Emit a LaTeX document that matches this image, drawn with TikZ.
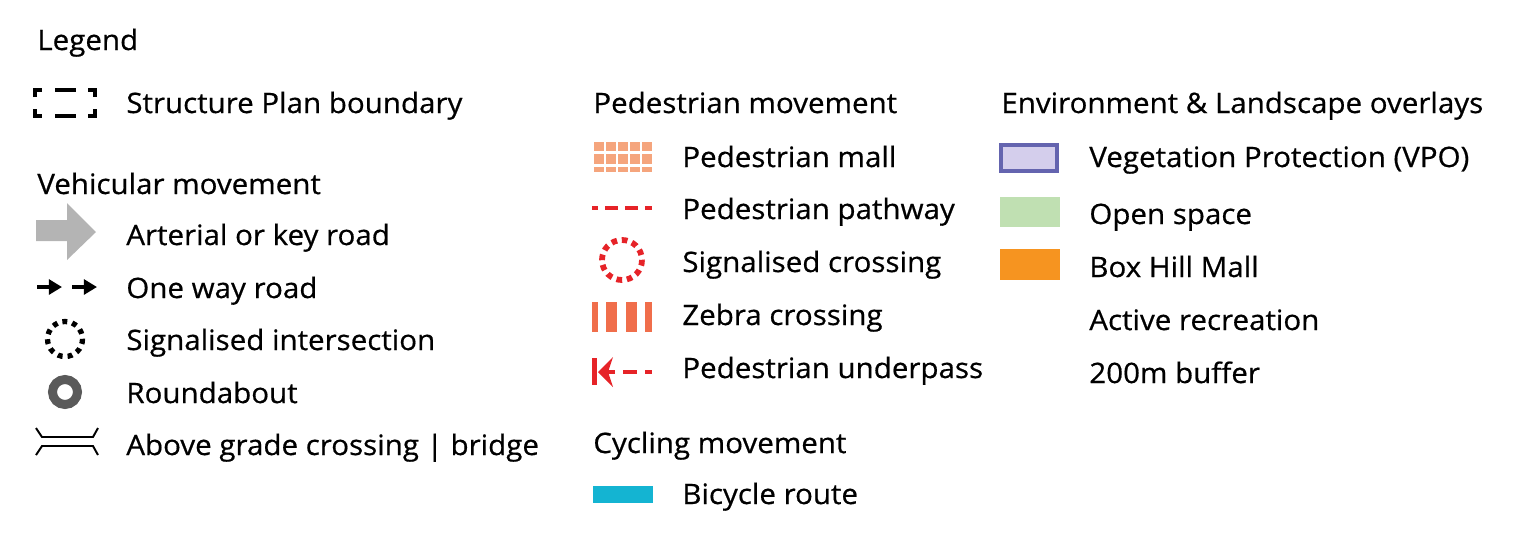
\documentclass[tikz,border=0pt]{standalone}
\usepackage{fontspec}
\setmainfont{Open Sans}[FakeBold=0.6, FakeStretch=1.05]
\usepackage{tikz}
\usetikzlibrary{arrows.meta, positioning}
\definecolor{myblack}{RGB}{0,0,0}
\definecolor{argrey}{RGB}{180,180,180}
\definecolor{rbgrey}{RGB}{90,90,90}
\definecolor{mallsal}{RGB}{245,165,125}
\definecolor{pedred}{RGB}{230,35,40}
\definecolor{zebraor}{RGB}{240,110,75}
\definecolor{cycblue}{RGB}{20,180,210}
\definecolor{vpoline}{RGB}{100,100,175}
\definecolor{vpofill}{RGB}{212,206,236}
\definecolor{opengreen}{RGB}{192,224,178}
\definecolor{mallorange}{RGB}{246,148,32}
\tikzset{
  legtext/.style={anchor=base west, inner sep=0pt, text=myblack,
    font=\fontsize{16}{19}\selectfont},
  bndline/.style={draw=myblack, line width=2pt},
  onewayarrow/.style={-{Triangle[length=7.5pt, width=8.5pt]}, line width=2.5pt, color=myblack},
  sigdots/.style={draw=myblack, line width=3pt, dash pattern=on 2.8pt off 2.87pt},
  bridgeline/.style={draw=myblack, line width=1.1pt},
  pedpath/.style={draw=pedred, line width=2.3pt},
  pedsig/.style={draw=pedred, line width=3.3pt, dash pattern=on 3.2pt off 2.74pt},
  swatch/.style={draw=none}
}
\begin{document}
\begin{tikzpicture}[x=0.02cm, y=-0.02cm]
  \useasboundingbox (0,0) rectangle (1540,542);

  % Title
  \node[legtext] (ttl) at (37,50) {Legend};

  % Structure Plan boundary
  \draw[bndline] (35,97) -- (35,90) -- (42,90);
  \draw[bndline] (55,90) -- (76,90);
  \draw[bndline] (88,90) -- (95,90) -- (95,97);
  \draw[bndline] (35,109) -- (35,116) -- (42,116);
  \draw[bndline] (55,116) -- (76,116);
  \draw[bndline] (88,116) -- (95,116) -- (95,109);
  \node[legtext] (lbbound) at (126,113) {Structure Plan boundary};

  % Vehicular movement
  \node[legtext] (hdrveh) at (37,194) {Vehicular movement};
  \fill[argrey] (36,220) -- (67,220) -- (67,203) -- (96,232) -- (67,260) -- (67,241) -- (36,241) -- cycle;
  \node[legtext] (lbart) at (126,245) {Arterial or key road};
  \coordinate (ow1a) at (37,287);
  \coordinate (ow1b) at (62,287);
  \coordinate (ow2a) at (72,287);
  \coordinate (ow2b) at (97,287);
  \draw[onewayarrow] (ow1a) -- (ow1b);
  \draw[onewayarrow] (ow2a) -- (ow2b);
  \node[legtext] (lbone) at (126,298) {One way road};
  \draw[sigdots] (65,339) circle (17.5);
  \node[legtext] (lbsig) at (126,350) {Signalised intersection};
  \draw[rbgrey, line width=5.1pt] (65,392) circle (12.5);
  \node[legtext] (lbround) at (126,403) {Roundabout};
  \draw[bridgeline] (36,428) -- (42,437) -- (93,437) -- (98,428);
  \draw[bridgeline] (36,455) -- (42,446) -- (93,446) -- (98,455);
  \node[legtext] (lbbridge) at (126,455) {Above grade crossing | bridge};

  % Pedestrian movement
  \node[legtext] (hdrped) at (593,113) {Pedestrian movement};
  \foreach \i in {0,...,4} {
    \fill[mallsal] (594+\i*12,142) rectangle ++(9.5,9);
    \fill[mallsal] (594+\i*12,154) rectangle ++(9.5,10);
    \fill[mallsal] (594+\i*12,167) rectangle ++(9.5,4.5);
  }
  \node[legtext] (lbmall) at (682,167) {Pedestrian mall};
  \foreach \a/\b in {592/598, 605/618, 625/638, 645/652}
    \draw[pedpath] (\a,208) -- (\b,208);
  \node[legtext] (lbpath) at (682,219) {Pedestrian pathway};
  \draw[pedsig] (622,260) circle (20);
  \node[legtext] (lbpsig) at (682,272) {Signalised crossing};
  \foreach \a/\b in {592/598, 606/617, 626/637, 645/652}
    \fill[zebraor] (\a,302) rectangle (\b,332);
  \node[legtext] (lbzebra) at (682,325) {Zebra crossing};
  \fill[pedred] (592,358) rectangle (597,385);
  \fill[pedred] (598,372) -- (613,357) -- (608,372) -- (613,387) -- cycle;
  \foreach \a/\b in {606/615, 623/637, 645/652}
    \draw[pedpath] (\a,372) -- (\b,372);
  \node[legtext] (lbunder) at (682,378) {Pedestrian underpass};

  % Cycling movement
  \node[legtext] (hdrcyc) at (593,453) {Cycling movement};
  \fill[cycblue] (593,486) rectangle (653,503);
  \node[legtext] (lbbike) at (682,504) {Bicycle route};

  % Environment & Landscape overlays
  \node[legtext] (hdrenv) at (1001,113) {Environment \& Landscape overlays};
  \draw[draw=vpoline, fill=vpofill, line width=2.3pt] (1001,145) rectangle (1057,171);
  \node[legtext] (lbvpo) at (1089,167) {Vegetation Protection (VPO)};
  \fill[opengreen] (1000,197) rectangle (1060,227);
  \node[legtext] (lbopen) at (1089,224) {Open space};
  \fill[mallorange] (1000,249) rectangle (1060,280);
  \node[legtext] (lbboxhill) at (1089,277) {Box Hill Mall};
  \node[legtext] (lbactive) at (1089,330) {Active recreation};
  \node[legtext] (lbbuffer) at (1089,383) {200m buffer};
\end{tikzpicture}
\end{document}
